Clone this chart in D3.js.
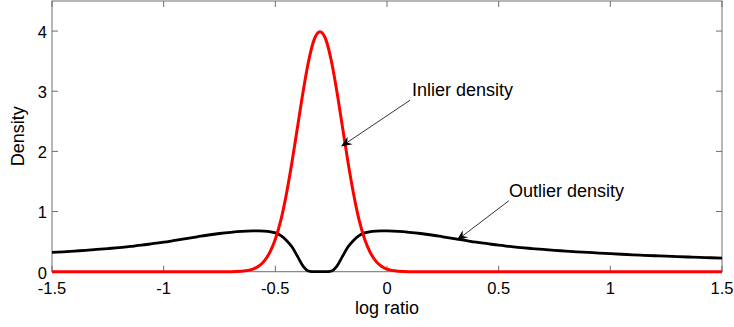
<!DOCTYPE html>
<html>
<head>
<meta charset="utf-8">
<script src="https://cdn.jsdelivr.net/npm/d3@7"></script>
<style>
  html, body { margin: 0; padding: 0; background: #fff; }
  svg { display: block; font-family: "Liberation Sans", Arial, Helvetica, sans-serif; }
</style>
</head>
<body>
<svg id="chart" width="734" height="327"></svg>
<script>
// Sample positions on the log-ratio axis
const logRatio = [
  -1.5, -1.45, -1.4, -1.35, -1.3, -1.25, -1.2, -1.15, -1.1, -1.05,
  -1.0, -0.95, -0.9, -0.85, -0.8, -0.75, -0.7, -0.65,
  -0.6, -0.575, -0.55, -0.525, -0.5, -0.475, -0.45, -0.425, -0.4, -0.375,
  -0.35, -0.325, -0.3, -0.275, -0.25, -0.225, -0.2, -0.175, -0.15, -0.125,
  -0.1, -0.075, -0.05, -0.025, 0.0,
  0.05, 0.1, 0.15, 0.2, 0.25, 0.3, 0.35, 0.4, 0.45, 0.5,
  0.55, 0.6, 0.65, 0.7, 0.75, 0.8, 0.85, 0.9, 0.95, 1.0,
  1.05, 1.1, 1.15, 1.2, 1.25, 1.3, 1.35, 1.4, 1.45, 1.5
];

// Inlier density (red)
const inlierDensity = [
  0, 0, 0, 0, 0, 0, 0, 0, 0, 0,
  0, 0, 0, 0, 0, 0, 0.001, 0.009,
  0.044, 0.091, 0.175, 0.32, 0.54, 0.86, 1.30, 1.83, 2.42, 3.01,
  3.52, 3.87, 3.99, 3.87, 3.52, 3.01, 2.42, 1.83, 1.30, 0.86,
  0.54, 0.32, 0.175, 0.091, 0.044,
  0.009, 0.001, 0, 0, 0, 0, 0, 0, 0, 0,
  0, 0, 0, 0, 0, 0, 0, 0, 0, 0,
  0, 0, 0, 0, 0, 0, 0, 0, 0, 0
];

// Outlier density (black)
const outlierDensity = [
  0.32, 0.331, 0.343, 0.355, 0.37, 0.385, 0.40, 0.42, 0.44, 0.465,
  0.49, 0.52, 0.55, 0.58, 0.61, 0.635, 0.655, 0.67,
  0.678, 0.68, 0.675, 0.665, 0.645, 0.60, 0.52, 0.41, 0.25, 0.09,
  0.01, 0, 0, 0, 0.01, 0.09, 0.25, 0.41, 0.52, 0.60,
  0.645, 0.665, 0.675, 0.68, 0.678,
  0.67, 0.655, 0.635, 0.61, 0.58, 0.55, 0.52, 0.49, 0.465, 0.44,
  0.42, 0.40, 0.385, 0.37, 0.355, 0.343, 0.331, 0.32, 0.31, 0.30,
  0.29, 0.281, 0.273, 0.265, 0.258, 0.251, 0.244, 0.238, 0.232, 0.226
];

const xTicks = [-1.5, -1, -0.5, 0, 0.5, 1, 1.5];
const xTickLabels = ["-1.5", "-1", "-0.5", "0", "0.5", "1", "1.5"];
const yTicks = [0, 1, 2, 3, 4];
const yTickLabels = ["0", "1", "2", "3", "4"];

// Callouts: label anchor, arrow start and arrow tip, in data units
const callouts = [
  { text: "Inlier density",  tx: 0.112, ty: 2.92, x0: 0.103, y0: 2.85, x1: -0.206, y1: 2.08 },
  { text: "Outlier density", tx: 0.546, ty: 1.24, x0: 0.546, y0: 1.18, x1: 0.312,  y1: 0.52 }
];

const svg = d3.select("#chart");
const plotLeft = 52, plotRight = 722, plotTop = 1, plotBottom = 271.7;

const x = d3.scaleLinear().domain([-1.5, 1.5]).range([plotLeft, plotRight]);
const y = d3.scaleLinear().domain([0, 4.5]).range([plotBottom, plotTop]);

const axisColor = "#6e6e6e";
const tickLen = 6;

// Plot box
svg.append("rect")
  .attr("x", plotLeft).attr("y", plotTop)
  .attr("width", plotRight - plotLeft).attr("height", plotBottom - plotTop)
  .attr("fill", "none").attr("stroke", axisColor).attr("stroke-width", 1);

// Inward ticks on all four sides
const ticks = svg.append("g").attr("stroke", axisColor).attr("stroke-width", 1);
xTicks.forEach(v => {
  ticks.append("line").attr("x1", x(v)).attr("x2", x(v)).attr("y1", plotBottom).attr("y2", plotBottom - tickLen);
  ticks.append("line").attr("x1", x(v)).attr("x2", x(v)).attr("y1", plotTop).attr("y2", plotTop + tickLen);
});
yTicks.forEach(v => {
  ticks.append("line").attr("x1", plotLeft).attr("x2", plotLeft + tickLen).attr("y1", y(v)).attr("y2", y(v));
  ticks.append("line").attr("x1", plotRight).attr("x2", plotRight - tickLen).attr("y1", y(v)).attr("y2", y(v));
});

// Tick labels
const labelSize = 16.5;
svg.append("g").selectAll("text").data(xTicks).join("text")
  .attr("x", d => x(d)).attr("y", 294)
  .attr("text-anchor", "middle")
  .attr("font-size", labelSize)
  .text((d, i) => xTickLabels[i]);

svg.append("g").selectAll("text").data(yTicks).join("text")
  .attr("x", plotLeft - 5).attr("y", d => y(d))
  .attr("dy", "0.42em")
  .attr("text-anchor", "end")
  .attr("font-size", labelSize)
  .text((d, i) => yTickLabels[i]);

// Axis titles
svg.append("text")
  .attr("x", (plotLeft + plotRight) / 2).attr("y", 314)
  .attr("text-anchor", "middle")
  .attr("font-size", 18)
  .text("log ratio");

svg.append("text")
  .attr("transform", `translate(24, ${(plotTop + plotBottom) / 2}) rotate(-90)`)
  .attr("text-anchor", "middle")
  .attr("font-size", 18)
  .text("Density");

// Curves
const pts = s => logRatio.map((v, i) => [v, s[i]]);
const line = d3.line().x(d => x(d[0])).y(d => y(d[1])).curve(d3.curveMonotoneX);

svg.append("path")
  .datum(pts(outlierDensity))
  .attr("d", line)
  .attr("fill", "none")
  .attr("stroke", "#000")
  .attr("stroke-width", 2.8)
  .attr("stroke-linejoin", "round");

svg.append("path")
  .datum(pts(inlierDensity))
  .attr("d", line)
  .attr("fill", "none")
  .attr("stroke", "#ff0000")
  .attr("stroke-width", 3)
  .attr("stroke-linejoin", "round");

// Callout arrows and labels
callouts.forEach(c => {
  const sx = x(c.x0), sy = y(c.y0), ex = x(c.x1), ey = y(c.y1);
  const ang = Math.atan2(ey - sy, ex - sx);
  const L = 11, W = 4.5, notch = 7.5;
  const ux = Math.cos(ang), uy = Math.sin(ang);
  const px = -uy, py = ux;
  const bx = ex - ux * L, by = ey - uy * L;
  const nx = ex - ux * notch, ny = ey - uy * notch;
  svg.append("line")
    .attr("x1", sx).attr("y1", sy).attr("x2", nx).attr("y2", ny)
    .attr("stroke", "#000").attr("stroke-width", 0.8);
  svg.append("path")
    .attr("d", `M${ex},${ey} L${bx + px * W},${by + py * W} L${nx},${ny} L${bx - px * W},${by - py * W} Z`)
    .attr("fill", "#000");
  svg.append("text")
    .attr("x", x(c.tx)).attr("y", y(c.ty))
    .attr("font-size", 18)
    .text(c.text);
});
</script>
</body>
</html>
